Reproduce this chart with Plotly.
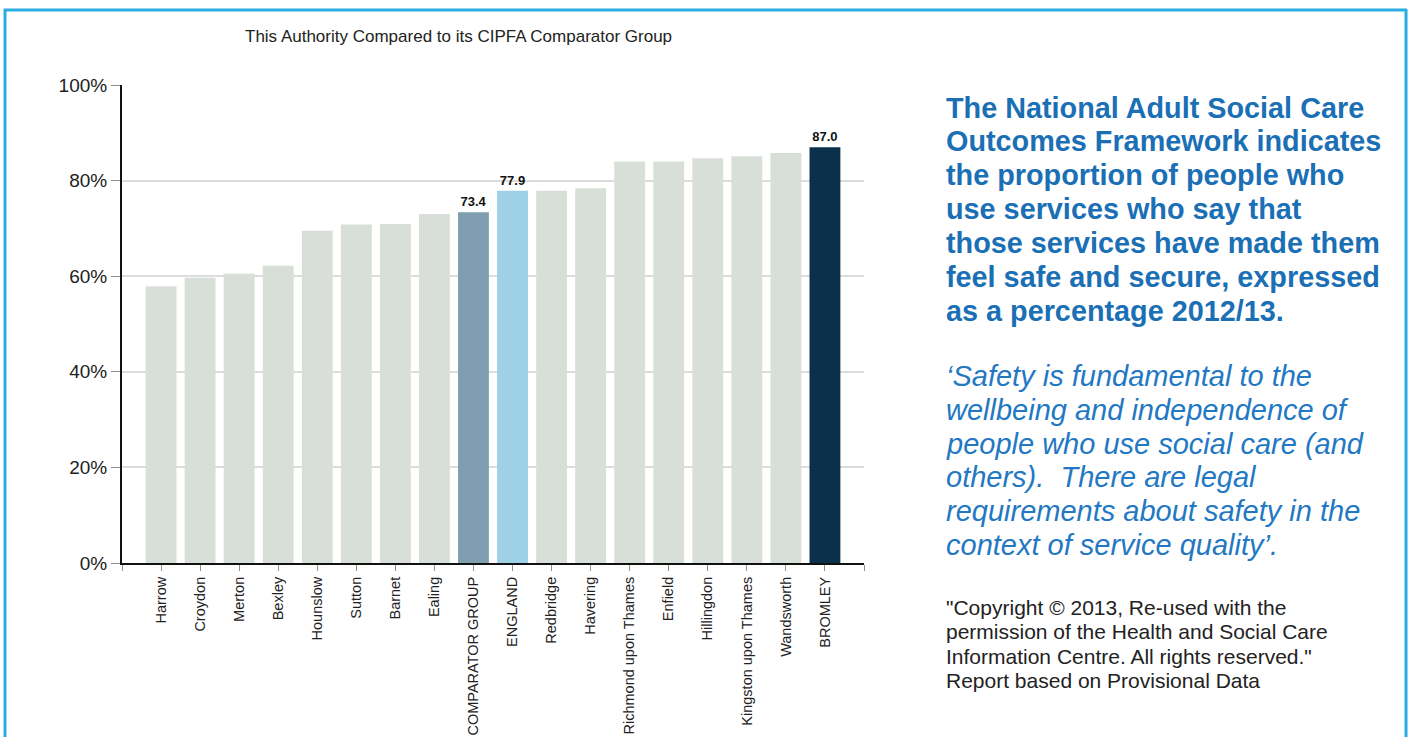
import plotly.graph_objects as go

categories = ["Harrow", "Croydon", "Merton", "Bexley", "Hounslow", "Sutton", "Barnet", "Ealing",
              "COMPARATOR GROUP", "ENGLAND", "Redbridge", "Havering", "Richmond upon Thames",
              "Enfield", "Hillingdon", "Kingston upon Thames", "Wandsworth", "BROMLEY"]
values = [57.9, 59.7, 60.5, 62.2, 69.5, 70.8, 70.9, 73.0, 73.4, 77.9, 77.9, 78.4, 84.0,
          84.0, 84.7, 85.1, 85.8, 87.0]
highlight_colors = {"COMPARATOR GROUP": "#7f9eb0", "ENGLAND": "#9ed0e8", "BROMLEY": "#0b304a"}
base_color = "#d8dfd9"
y_ticks = [0, 20, 40, 60, 80, 100]
y_tick_labels = ["0%", "20%", "40%", "60%", "80%", "100%"]

title_text = "This Authority Compared to its CIPFA Comparator Group"
bold_lines = ["The National Adult Social Care", "Outcomes Framework indicates",
              "the proportion of people who", "use services who say that",
              "those services have made them", "feel safe and secure, expressed",
              "as a percentage 2012/13."]
italic_lines = ["\u2018Safety is fundamental to the", "wellbeing and independence of",
                "people who use social care (and", "others).&#160;&#160;There are legal",
                "requirements about safety in the", "context of service quality\u2019."]
copy_lines = ["\"Copyright \u00a9 2013, Re-used with the", "permission of the Health and Social Care",
              "Information Centre. All rights reserved.\"", "Report based on Provisional Data"]

W, H = 1412, 737
L, R, T, B = 122, 864, 85, 563


def px(x):
    return (x - L) / (R - L)


def py(y):
    return (B - y) / (B - T)


xpos = list(range(len(categories)))
colors = [highlight_colors.get(c, base_color) for c in categories]
texts = [f"<b>{v:.1f}</b>" if c in highlight_colors else "" for c, v in zip(categories, values)]

fig = go.Figure()
fig.add_trace(go.Bar(
    x=xpos, y=values, marker=dict(color=colors, line=dict(width=0)), width=0.79,
    text=texts, textposition="outside", cliponaxis=False,
    textfont=dict(family="Arial, Liberation Sans", size=13, color="#111"),
    hoverinfo="skip",
))

fig.update_layout(
    width=W, height=H,
    margin=dict(l=L, r=W - R, t=T, b=H - B, pad=0, autoexpand=False),
    paper_bgcolor="white", plot_bgcolor="white",
    showlegend=False,
    font=dict(family="Arial, Liberation Sans", color="#222"),
)
fig.update_xaxes(
    range=[-1, len(categories)],
    automargin=False,
    tickmode="array",
    tickvals=[-1] + xpos + [len(categories)],
    ticktext=[""] + categories + [""],
    tickangle=-90,
    tickfont=dict(size=14.5, color="#222"),
    ticks="outside", ticklen=6, tickcolor="#9a8a8a", tickwidth=1,
    showline=True, linecolor="#111", linewidth=2,
    showgrid=False, zeroline=False,
)
fig.update_yaxes(
    range=[0, 100],
    automargin=False,
    tickmode="array", tickvals=y_ticks, ticktext=y_tick_labels,
    tickfont=dict(size=19, color="#222"),
    ticks="outside", ticklen=9, tickcolor="#9a8a8a", tickwidth=1,
    showline=True, linecolor="#111", linewidth=2,
    showgrid=True, gridcolor="#dcdcdc", gridwidth=2,
    zeroline=False,
)

shapes = []
border = "#2aace2"
shapes.append(dict(type="line", xref="paper", yref="paper", x0=px(4), x1=px(1407), y0=py(10), y1=py(10),
                   line=dict(color=border, width=3)))
shapes.append(dict(type="line", xref="paper", yref="paper", x0=px(5), x1=px(5), y0=py(9), y1=py(745),
                   line=dict(color=border, width=3)))
shapes.append(dict(type="line", xref="paper", yref="paper", x0=px(1406), x1=px(1406), y0=py(9), y1=py(745),
                   line=dict(color=border, width=3)))
fig.update_layout(shapes=shapes)

ann = []
ann.append(dict(text=title_text, x=px(458), y=py(37), xref="paper", yref="paper",
                xanchor="center", yanchor="middle", showarrow=False,
                font=dict(size=17, color="#222")))
for i, line in enumerate(bold_lines):
    ann.append(dict(text=f"<b>{line}</b>", x=px(944), y=py(107.5 + i * 33.9), xref="paper", yref="paper",
                    xanchor="left", yanchor="middle", showarrow=False,
                    font=dict(size=28.8, color="#1b6fb5")))
for i, line in enumerate(italic_lines):
    ann.append(dict(text=f"<i>{line}</i>", x=px(944), y=py(376 + i * 33.8), xref="paper", yref="paper",
                    xanchor="left", yanchor="middle", showarrow=False,
                    font=dict(size=29, color="#2378c3")))
for i, line in enumerate(copy_lines):
    ann.append(dict(text=line, x=px(944), y=py(607 + i * 24.5), xref="paper", yref="paper",
                    xanchor="left", yanchor="middle", showarrow=False,
                    font=dict(size=21, color="#222")))
fig.update_layout(annotations=ann)

fig.write_html("out.html")
